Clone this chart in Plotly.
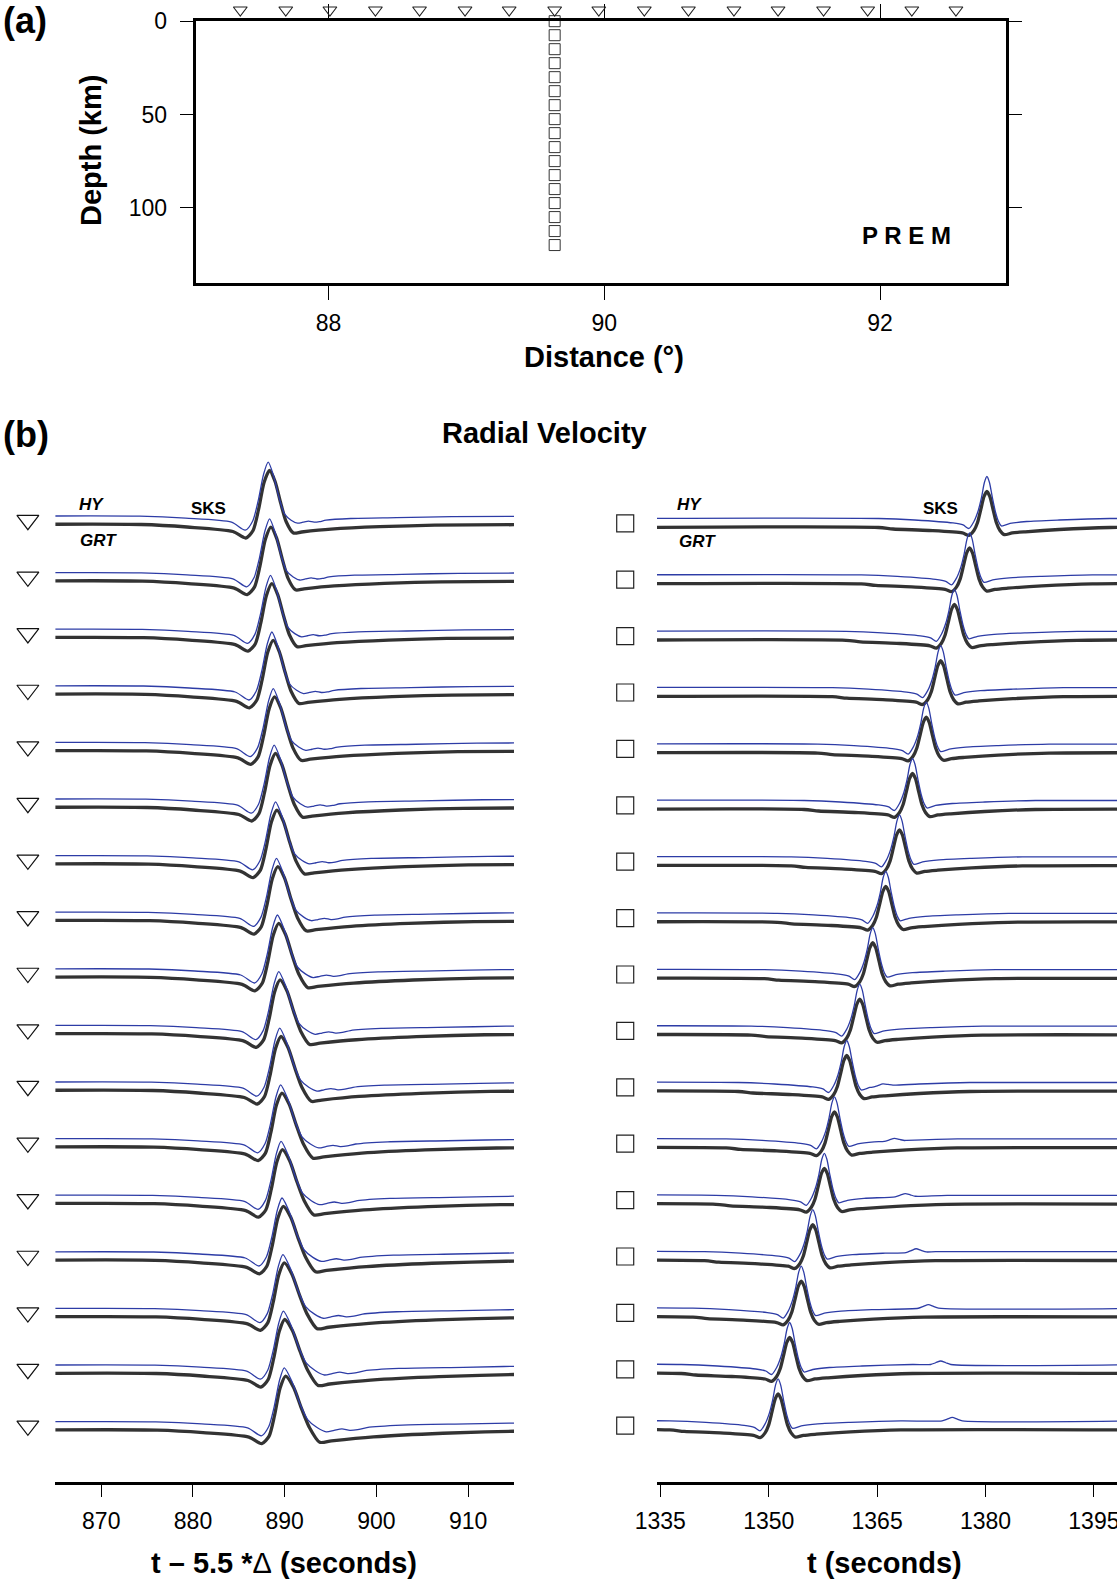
import numpy as np
import plotly.graph_objects as go

# ---------------- data: panel (a) ----------------
station_dist = [87.36, 87.69, 88.01, 88.34, 88.66, 88.99, 89.31, 89.64, 89.96,
                90.29, 90.61, 90.94, 91.26, 91.59, 91.91, 92.23, 92.55]
source_dist = 89.64
source_depth = [0, 7.5, 15, 22.5, 30, 37.5, 45, 52.5, 60, 67.5, 75, 82.5,
                90, 97.5, 105, 112.5, 120]
dist_ticks = [88, 90, 92]
depth_ticks = [0, 50, 100]

# ---------------- data: panel (b) ----------------
# SKS peak times (left: reduced time t - 5.5*Delta, right: absolute time)
left_peak_t = [888.35, 888.5, 888.6, 888.75, 888.9, 889.0, 889.15, 889.25, 889.35,
               889.5, 889.6, 889.7, 889.75, 889.85, 889.95, 890.0, 890.1]
left_stretch = [1.0, 1.03, 1.06, 1.08, 1.11, 1.14, 1.16, 1.19, 1.22, 1.24, 1.27,
                1.30, 1.32, 1.35, 1.38, 1.40, 1.43]
right_peak_t = [1380.2, 1377.8, 1375.7, 1373.8, 1371.8, 1369.9, 1368.1, 1366.2, 1364.4,
                1362.6, 1360.8, 1359.1, 1357.7, 1356.1, 1354.5, 1352.9, 1351.3]
# small later arrival on HY (blue) right-column traces: trace index, time, amplitude
right_bump_trace = [10, 11, 12, 13, 14, 15, 16]
right_bump_t = [1365.8, 1367.4, 1368.9, 1370.4, 1372.1, 1373.8, 1375.4]
right_bump_amp = [2.0, 2.5, 3.0, 3.5, 3.5, 3.5, 3.5]

# waveform shapes (time rel. to peak, amplitude)
lb_t = [-30, -14, -9, -4, -2.6, -1.8, -1.2, -0.6, 0, 0.6, 1.2, 1.8, 2.6, 3.5, 6.7, 12, 18, 30]
lb_a = [0, 0, -2.5, -7, -13.5, -6, 15, 42, 54, 43, 22, 3, -8.5, -7.5, -4.7, -2.2, -0.7, 0]
lu_t = [-30, -14, -9, -4, -2.5, -1.7, -1.1, -0.5, 0, 0.6, 1.2, 1.8, 2.5, 3.2, 3.8, 4.4,
        5.0, 5.6, 6.3, 9, 14, 20, 30]
lu_a = [0, 0, -2, -6, -14, -5, 15, 42, 54, 40, 18, 2, -4, -7, -6, -5, -6, -5.5, -4,
        -2.3, -1.5, -0.5, 0]
rb_t = [-50, -15, -13, -8, -3.4, -2.5, -1.8, -1.3, -0.85, -0.4, 0, 0.4, 0.85, 1.3, 1.8,
        2.4, 3.5, 5.3, 10, 17, 50]
rb_a = [0, 0, -1.5, -3, -5.5, -7.8, -3, 5, 18, 31, 36, 31, 18, 5, -3, -7.2, -5.5, -4.3,
        -2, 0, 0]
ru_t = [-50, -15, -10, -4.7, -3.3, -2.5, -1.8, -1.2, -0.75, -0.35, 0, 0.35, 0.75, 1.2,
        1.6, 2.0, 3.2, 5.5, 10, 17, 50]
ru_a = [0, 0, -1.5, -4.5, -6.5, -10, -3, 8, 21, 36, 42, 36, 21, 6, -3, -7.5, -5, -3,
        -1.5, 0, 0]

left_ticks = [870, 880, 890, 900, 910]
right_ticks = [1335, 1350, 1365, 1380, 1395]

# ---------------- styling / layout constants ----------------
W, H = 1117, 1581
FONT = "Liberation Sans, Arial, Helvetica, sans-serif"
BLUE = "#2d3ca6"
DARK = "#333333"
L_UNIT = 56.6      # px per trace spacing (left)
R_UNIT = 56.4      # px per trace spacing (right)
L_BLUE_OFF = 8.3   # px blue above black
R_BLUE_OFF = 9.0
L_RANGE = [865, 915]
R_RANGE = [1334.54, 1398.2]
L_DOM = [55.4, 514]      # px
R_DOM = [657, 1117]      # px


def px(x):
    return x / W


def py(y):
    return 1 - y / H


def make_trace(tt, aa, peak, stretch=1.0, bumps=()):
    t = np.array(tt, float)
    a = np.array(aa, float)
    pos = t > 0
    t = np.where(pos, t * stretch, t)
    a = np.where(pos & (a < 0), a * stretch, a)
    tabs = t + peak
    if not bumps:
        return tabs, a
    extra = []
    for tb, ab in bumps:
        for dt, f in [(-1.4, 0), (-0.7, 0.5), (0, 1.0), (0.7, 0.5), (1.4, 0)]:
            extra.append((tb + dt, ab * f))
    keep = np.ones(len(tabs), bool)
    for tb, ab in bumps:
        keep &= np.abs(tabs - tb) > 1.6
    base_t = tabs[keep]
    allt = np.sort(np.concatenate([base_t, np.array([e[0] for e in extra])]))
    vals = np.interp(allt, tabs, a)
    for tb_, ab_ in extra:
        vals[np.isclose(allt, tb_)] += ab_
    return allt, vals


fig = go.Figure()

# ---------------- panel (a) ----------------
fig.add_trace(go.Scatter(
    x=[source_dist] * len(source_depth), y=source_depth, mode="markers",
    marker=dict(symbol="square-open", size=11, color=DARK, line=dict(width=1, color=DARK)),
    xaxis="x", yaxis="y", cliponaxis=False, showlegend=False))
fig.add_trace(go.Scatter(
    x=station_dist, y=[-6.0] * len(station_dist), mode="markers",
    marker=dict(symbol="triangle-down-open", size=12, color="#222",
                line=dict(width=1.1, color="#222")),
    xaxis="x4", yaxis="y4", cliponaxis=False, showlegend=False))

# ---------------- panel (b) ----------------
for i in range(17):
    t, a = make_trace(lb_t, lb_a, left_peak_t[i], left_stretch[i])
    fig.add_trace(go.Scatter(x=t, y=-i + a / L_UNIT, mode="lines",
                             line=dict(color=DARK, width=3.3, shape="spline", smoothing=0.7),
                             xaxis="x2", yaxis="y2", showlegend=False))
    t, a = make_trace(lu_t, lu_a, left_peak_t[i] - 0.15, left_stretch[i])
    fig.add_trace(go.Scatter(x=t, y=-i + (a + L_BLUE_OFF) / L_UNIT, mode="lines",
                             line=dict(color=BLUE, width=1.3, shape="spline", smoothing=0.7),
                             xaxis="x2", yaxis="y2", showlegend=False))
    t, a = make_trace(rb_t, rb_a, right_peak_t[i])
    fig.add_trace(go.Scatter(x=t, y=-i + a / R_UNIT, mode="lines",
                             line=dict(color=DARK, width=3.3, shape="spline", smoothing=0.7),
                             xaxis="x3", yaxis="y3", showlegend=False))
    bumps = [(right_bump_t[k], right_bump_amp[k]) for k, tr in enumerate(right_bump_trace) if tr == i]
    t, a = make_trace(ru_t, ru_a, right_peak_t[i], 1.0, bumps)
    fig.add_trace(go.Scatter(x=t, y=-i + (a + R_BLUE_OFF) / R_UNIT, mode="lines",
                             line=dict(color=BLUE, width=1.3, shape="spline", smoothing=0.7),
                             xaxis="x3", yaxis="y3", showlegend=False))

idx = np.arange(17)
fig.add_trace(go.Scatter(
    x=[L_RANGE[0] - 3.0] * 17, y=-idx + 4.3 / L_UNIT, mode="markers",
    marker=dict(symbol="triangle-down-open", size=19, color="#111", line=dict(width=1.2, color="#111")),
    xaxis="x5", yaxis="y2", cliponaxis=False, showlegend=False))
fig.add_trace(go.Scatter(
    x=[R_RANGE[0] - 4.4] * 17, y=-idx + 4.2 / R_UNIT, mode="markers",
    marker=dict(symbol="square-open", size=17, color="#222", line=dict(width=1.2, color="#222")),
    xaxis="x6", yaxis="y3", cliponaxis=False, showlegend=False))

axis_common = dict(showgrid=False, zeroline=False, showline=True, linecolor="black",
                   ticks="outside", tickcolor="black", tickwidth=1.3, automargin=False,
                   ticklabeloverflow="allow",
                   tickfont=dict(size=23, family=FONT, color="black"))
hidden = dict(visible=False, showgrid=False, zeroline=False, automargin=False)

# scales used for the overlay (marker) axes
a_px_per_km = (283.3 - 21.2) / 140.5
l_px_per_s = (L_DOM[1] - L_DOM[0]) / (L_RANGE[1] - L_RANGE[0])
r_px_per_s = (R_DOM[1] - R_DOM[0]) / (R_RANGE[1] - R_RANGE[0])

fig.update_layout(
    template="none",
    width=W, height=H, margin=dict(l=0, r=0, t=0, b=0, pad=0, autoexpand=False),
    paper_bgcolor="white", plot_bgcolor="rgba(0,0,0,0)",
    font=dict(family=FONT, color="black"),
    showlegend=False,
    xaxis=dict(axis_common, domain=[px(195.6), px(1006)], range=[87.036, 92.913],
               tickvals=dist_ticks, ticklen=14, linewidth=3, mirror="ticks",
               ticklabelstandoff=3, anchor="y"),
    yaxis=dict(axis_common, domain=[py(283.3), py(21.2)], range=[140.5, 0],
               tickvals=depth_ticks, ticklen=13, linewidth=3, mirror="ticks",
               ticklabelstandoff=8, anchor="x"),
    xaxis4=dict(hidden, domain=[px(195.6), px(1006)], range=[87.036, 92.913], anchor="y4"),
    yaxis4=dict(hidden, domain=[py(283.3), 1.0], range=[140.5, -21.2 / a_px_per_km],
                anchor="x4"),
    xaxis2=dict(axis_common, domain=[px(L_DOM[0]), px(L_DOM[1])], range=L_RANGE,
                tickvals=left_ticks, ticklen=12, linewidth=3, anchor="y2",
                ticklabelstandoff=4),
    yaxis2=dict(hidden, domain=[py(1482), py(440)], range=[-16.917, 1.493], anchor="x2"),
    xaxis5=dict(hidden, domain=[0, px(L_DOM[1])],
                range=[L_RANGE[0] - L_DOM[0] / l_px_per_s, L_RANGE[1]], anchor="y2"),
    xaxis3=dict(axis_common, domain=[px(R_DOM[0]), 1.0], range=R_RANGE,
                tickvals=right_ticks, ticklen=12, linewidth=3, anchor="y3",
                ticklabelstandoff=4),
    yaxis3=dict(hidden, domain=[py(1482), py(440)], range=[-16.924, 1.551], anchor="x3"),
    xaxis6=dict(hidden, domain=[px(590), 1.0],
                range=[R_RANGE[0] - (R_DOM[0] - 590) / r_px_per_s, R_RANGE[1]], anchor="y3"),
)

ann = []


def A(text, x, y, size, xref="paper", yref="paper", angle=0, xanchor="center", yanchor="middle"):
    ann.append(dict(text=text, x=x, y=y, xref=xref, yref=yref, showarrow=False,
                    textangle=angle, xanchor=xanchor, yanchor=yanchor,
                    font=dict(size=size, family=FONT, color="black")))


A("<b>(a)</b>", px(1), py(20), 36, xanchor="left")
A("<b>Depth (km)</b>", px(91), py(151), 29, angle=-90)
A("<b>Distance (°)</b>", px(604), py(357), 29)
A("<b>P R E M</b>", 92.195, 115.1, 24, xref="x", yref="y")
A("<b>(b)</b>", px(1), py(434), 36, xanchor="left")
A("<b>Radial Velocity</b>", px(544), py(433.5), 29)
A("<b>t – 5.5 *</b>Δ<b> (seconds)</b>", px(284), py(1563), 29)
A("<b>t (seconds)</b>", px(884), py(1563), 29)
A("<b><i>HY</i></b>", 868.98, 0.362, 17, xref="x2", yref="y2")
A("<b><i>GRT</i></b>", 869.74, -0.29, 17, xref="x2", yref="y2")
A("<b>SKS</b>", 881.7, 0.29, 17, xref="x2", yref="y2")
A("<b><i>HY</i></b>", 1339.1, 0.40, 17, xref="x3", yref="y3")
A("<b><i>GRT</i></b>", 1340.2, -0.24, 17, xref="x3", yref="y3")
A("<b>SKS</b>", 1373.8, 0.33, 17, xref="x3", yref="y3")
fig.update_layout(annotations=ann)

fig.write_html("out.html", config={"displayModeBar": False},
               post_script="document.body.style.margin='0';")
